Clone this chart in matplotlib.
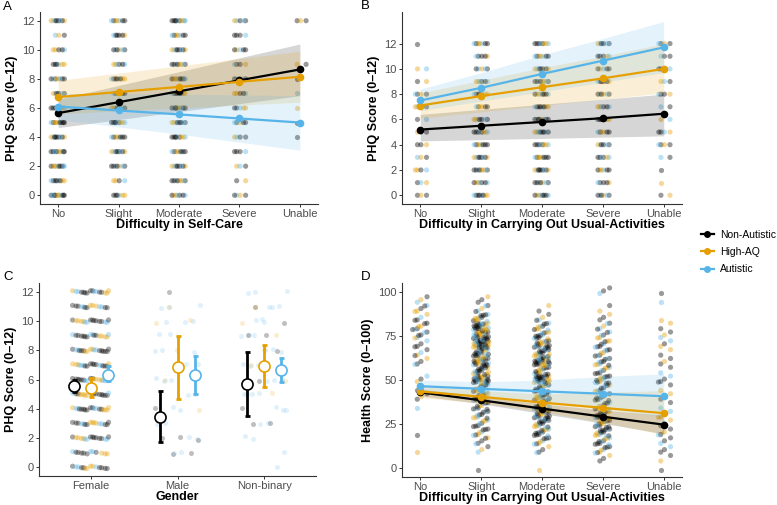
import numpy as np
import matplotlib
matplotlib.use("Agg")
import matplotlib.pyplot as plt
from matplotlib.lines import Line2D

plt.rcParams['font.family'] = ['Liberation Sans', 'DejaVu Sans']

groups = ["Non-Autistic", "High-AQ", "Autistic"]
colors = ["#000000", "#E69F00", "#56B4E9"]
levels = ["No", "Slight", "Moderate", "Severe", "Unable"]
genders = ["Female", "Male", "Non-binary"]
phq_levels = list(range(13))
health_levels = list(range(0, 101, 5))

# ---- panel A: self-care (fit, lower, upper per group)
a_fit = [[5.65, 6.4, 7.15, 7.9, 8.65], [6.75, 7.1, 7.45, 7.8, 8.15], [6.1, 5.83, 5.56, 5.28, 5.0]]
a_lo = [[4.65, 5.2, 5.75, 6.3, 6.85], [5.6, 5.8, 6.0, 6.2, 6.4], [5.2, 4.7, 4.2, 3.65, 3.1]]
a_hi = [[6.6, 7.55, 8.5, 9.45, 10.4], [7.9, 8.4, 8.9, 9.4, 9.9], [7.0, 7.0, 6.95, 6.9, 6.85]]
# counts of respondents at each PHQ score (0..12) per difficulty level
a_counts = [[12, 8, 10, 10, 9, 10, 7, 6, 8, 6, 5, 3, 8],
            [6, 4, 7, 8, 8, 9, 7, 6, 8, 6, 6, 6, 7],
            [7, 8, 8, 8, 9, 8, 9, 8, 10, 8, 8, 7, 10],
            [4, 2, 3, 4, 4, 5, 5, 5, 5, 4, 5, 4, 5],
            [0, 0, 0, 0, 1, 1, 1, 1, 1, 2, 0, 0, 3]]

# ---- panel B: usual activities
b_fit = [[5.2, 5.5, 5.8, 6.1, 6.45], [7.1, 7.85, 8.55, 9.25, 10.0], [7.5, 8.5, 9.6, 10.65, 11.7]]
b_lo = [[4.3, 4.4, 4.5, 4.6, 4.7], [6.1, 6.6, 7.1, 7.6, 8.1], [6.7, 7.45, 8.2, 8.95, 9.7]]
b_hi = [[6.4, 6.8, 7.2, 7.6, 8.0], [8.1, 9.1, 10.1, 11.0, 12.0], [8.4, 9.7, 11.1, 12.4, 13.75]]
b_counts = [[3, 3, 4, 3, 3, 3, 2, 4, 4, 2, 2, 0, 1],
            [8, 7, 8, 8, 8, 8, 7, 6, 7, 6, 5, 5, 7],
            [8, 7, 9, 9, 8, 9, 9, 8, 8, 8, 7, 7, 8],
            [6, 5, 6, 6, 6, 6, 6, 6, 6, 6, 5, 5, 6],
            [2, 1, 1, 2, 4, 4, 2, 2, 4, 3, 4, 3, 4]]

# ---- panel C: gender means with 95% CI
c_mean = [[5.55, 3.45, 5.7], [5.4, 6.85, 6.9], [6.3, 6.3, 6.65]]
c_lo = [[5.15, 1.75, 3.5], [4.8, 4.7, 5.5], [5.9, 5.0, 5.8]]
c_hi = [[6.0, 5.2, 7.9], [6.1, 9.0, 8.35], [6.9, 7.6, 7.5]]
c_female_counts = [14, 12, 16, 16, 18, 18, 18, 18, 18, 16, 16, 14, 16]
c_male = {0: [12, 2, 2, 2, 1, 1, 4],
          1: [11, 10, 10, 8, 6, 4],
          2: [11, 11, 11, 10, 10, 9, 9, 8, 8, 8, 7, 7, 6, 6, 6, 5, 5, 4, 4, 3, 3, 2, 2, 1, 1, 10, 9, 7]}
c_nonbinary = {0: [11, 10, 9, 9, 8, 6, 4, 3, 3],
               1: [11, 10, 9, 8, 7, 6, 5],
               2: [12, 12, 12, 11, 11, 10, 10, 9, 9, 8, 8, 8, 7, 7, 7, 6, 6, 6, 5, 5, 5, 4, 4, 3, 3,
                   2, 2, 1, 0, 11, 10, 9, 5, 4]}

# ---- panel D: health score
d_fit = [[43, 38.5, 33.8, 29.2, 24.7], [43.5, 40.5, 37.2, 34.2, 31.2], [46.5, 45, 43.6, 42.2, 40.8]]
d_lo = [[41, 36.5, 31, 25.5, 19.5], [40, 37, 32, 26, 19], [43, 41, 38, 34, 29]]
d_hi = [[45, 40.5, 36.5, 33, 30], [47, 44, 42, 43, 44], [50, 49, 50, 52, 53.5]]
# counts at each 5-point health score band (0..100) per difficulty level
d_counts = [[0, 0, 1, 0, 1, 0, 0, 1, 3, 1, 3, 0, 4, 4, 4, 6, 7, 4, 5, 3, 0],
            [1, 0, 3, 5, 8, 8, 10, 10, 14, 12, 25, 15, 22, 18, 28, 22, 22, 12, 5, 3, 0],
            [1, 0, 4, 8, 12, 14, 18, 16, 18, 14, 25, 14, 24, 16, 18, 12, 10, 4, 2, 0, 0],
            [0, 3, 8, 10, 14, 14, 14, 10, 12, 8, 14, 8, 10, 8, 8, 6, 5, 3, 2, 0, 3],
            [1, 2, 3, 3, 4, 3, 4, 2, 3, 2, 4, 2, 3, 2, 3, 3, 2, 1, 0, 1, 1]]

group_mix = [0, 0, 1, 2, 0, 1, 0, 2]


def jit(n, w, k=0.618034):
    return ((np.arange(n) * k + 0.31) % 1 - 0.5) * 2 * w


def style(ax):
    for s in ["top", "right"]:
        ax.spines[s].set_visible(False)
    for s in ["left", "bottom"]:
        ax.spines[s].set_linewidth(0.8)
        ax.spines[s].set_color("#333333")
    ax.tick_params(colors="#333333", labelcolor="#4D4D4D", labelsize=8, length=2.5, width=0.7, pad=1.2)


def scatter_counts(ax, counts, yvals, w, yj=0.0, alpha=0.4):
    for ci, row in enumerate(counts):
        for yi, n in enumerate(row):
            if n == 0:
                continue
            xs = ci + jit(n, w)
            ys = yvals[yi] + jit(n, yj, 0.381966 * 1.7) if yj else np.full(n, yvals[yi], dtype=float)
            cols = [colors[group_mix[(i + yi + ci) % len(group_mix)]] for i in range(n)]
            ax.scatter(xs, ys, s=14, c=cols, alpha=alpha, linewidths=0, zorder=1)


def fit_lines(ax, fit, lo, hi):
    x = np.arange(len(levels))
    for g in range(3):
        ax.fill_between(x, lo[g], hi[g], color=colors[g], alpha=0.16, linewidth=0, zorder=2)
    for g in range(3):
        ax.plot(x, fit[g], color=colors[g], lw=1.6, marker="o", ms=4.5, zorder=3)


fig = plt.figure(figsize=(7.77, 5.05), dpi=100)
W, H = 777, 505


def add_ax(l, t, r, b):
    return fig.add_axes([l / W, 1 - b / H, (r - l) / W, (b - t) / H])


axA = add_ax(40, 12, 318, 204)
axB = add_ax(402, 12, 682, 204)
axC = add_ax(39, 283, 316, 476)
axD = add_ax(402, 283, 682, 477)

# A
scatter_counts(axA, a_counts, phq_levels, 0.12)
fit_lines(axA, a_fit, a_lo, a_hi)
axA.set_ylim(-0.6, 12.6)
axA.set_yticks(range(0, 13, 2))
axA.set_ylabel("PHQ Score (0–12)")
axA.set_xlabel("Difficulty in Self-Care")

# B
scatter_counts(axB, b_counts, phq_levels, 0.12)
fit_lines(axB, b_fit, b_lo, b_hi)
axB.set_ylim(-0.69, 14.5)
axB.set_yticks(range(0, 13, 2))
axB.set_ylabel("PHQ Score (0–12)")
axB.set_xlabel("Difficulty in Carrying Out Usual-Activities")

# D
scatter_counts(axD, d_counts, health_levels, 0.13, yj=2.4)
fit_lines(axD, d_fit, d_lo, d_hi)
axD.set_ylim(-5, 105)
axD.set_yticks([0, 25, 50, 75, 100])
axD.set_ylabel("Health Score (0–100)")
axD.set_xlabel("Difficulty in Carrying Out Usual-Activities")

for ax in (axA, axB, axD):
    ax.set_xticks(range(len(levels)))
    ax.set_xticklabels(levels)
    ax.set_xlim(-0.3, 4.3)

# C
for yi, n in enumerate(c_female_counts):
    xs = jit(n, 0.22)
    ys = phq_levels[yi] + jit(n, 0.1, 0.7548)
    cols = [colors[group_mix[(i + yi) % len(group_mix)]] for i in range(n)]
    axC.scatter(xs, ys, s=14, c=cols, alpha=0.35, linewidths=0, zorder=1)
for gi, data in ((1, c_male), (2, c_nonbinary)):
    for g, vals in data.items():
        n = len(vals)
        xs = gi + jit(n, 0.27, 0.618034 + 0.11 * g)
        ys = np.array(vals, dtype=float) + jit(n, 0.12, 0.7548)
        axC.scatter(xs, ys, s=13, color=colors[g], alpha=0.18 if g else 0.25, linewidths=0, zorder=1)
dodge = [-0.2, 0.0, 0.2]
for g in range(3):
    x = np.arange(3) + dodge[g]
    m = np.array(c_mean[g])
    err = [m - np.array(c_lo[g]), np.array(c_hi[g]) - m]
    axC.errorbar(x, m, yerr=err, fmt="none", ecolor=colors[g], elinewidth=2, capsize=1.8, capthick=2, zorder=3)
    axC.plot(x, m, "o", ms=8, mfc="white", mec=colors[g], mew=1.2, ls="none", zorder=4)
axC.set_xticks(range(3))
axC.set_xticklabels(genders)
axC.set_xlim(-0.6, 2.6)
axC.set_ylim(-0.6, 12.6)
axC.set_yticks(range(0, 13, 2))
axC.set_ylabel("PHQ Score (0–12)")
axC.set_xlabel("Gender")

for ax in (axA, axB, axC, axD):
    style(ax)
    ax.xaxis.label.set_fontweight("bold")
    ax.yaxis.label.set_fontweight("bold")
    ax.xaxis.label.set_fontsize(9)
    ax.yaxis.label.set_fontsize(9)
    ax.xaxis.labelpad = 0
    ax.yaxis.labelpad = 3

for lab, x, y in (("A", 3, 7), ("B", 361, 6), ("C", 3, 277), ("D", 361, 277)):
    fig.text(x / W, 1 - y / H, lab, fontsize=9.5, va="center", ha="left")

handles = [Line2D([0], [0], color=c, lw=1.6, marker="o", ms=4) for c in colors]
fig.legend(handles, groups, loc="center left", bbox_to_anchor=(700 / W, 1 - 252 / H), frameon=False,
           fontsize=7.5, handlelength=1.2, handletextpad=0.6, labelspacing=0.7, borderpad=0.1,
           borderaxespad=0)

fig.savefig("out.png", dpi=100)
